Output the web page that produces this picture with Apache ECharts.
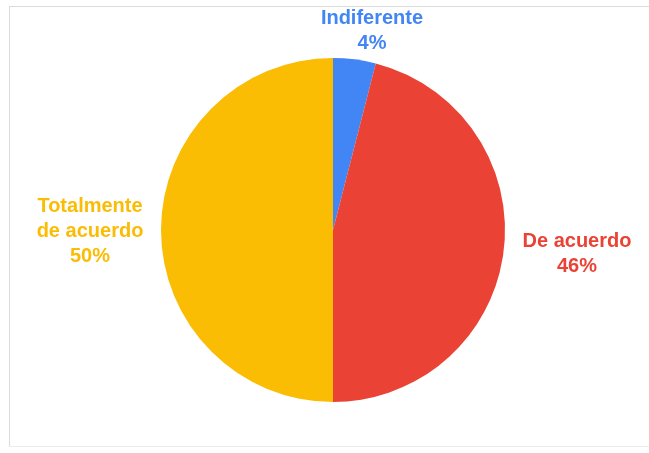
<!DOCTYPE html>
<html>
<head>
<meta charset="utf-8">
<script src="https://cdn.jsdelivr.net/npm/echarts@6/dist/echarts.min.js"></script>
<style>
  html, body { margin: 0; padding: 0; background: #fff; }
  #frame { position: absolute; left: 9px; top: 6px; width: 660px; height: 441px; border: 1px solid #dcdcdc; border-bottom-color: #ececec; box-sizing: border-box; }
  #chart { position: absolute; left: 0; top: 0; width: 649px; height: 453px; }
</style>
</head>
<body>
<div id="frame"></div>
<div id="chart"></div>
<script>
// Survey answers and their shares (percent)
const categories = ['Indiferente', 'De acuerdo', 'Totalmente\nde acuerdo'];
const shares = [4, 46, 50];
const colors = ['#4285F4', '#EA4335', '#FBBC04'];

// Label anchor points (centre of each text block), in pixels
const labelSpots = [[372, 31], [577, 254], [90, 231]];

const chart = echarts.init(document.getElementById('chart'), null, { renderer: 'canvas' });

const data = categories.map((name, i) => ({
  name: name,
  value: shares[i],
  itemStyle: { color: colors[i] },
  label: { color: colors[i] }
}));

chart.setOption({
  animation: false,
  series: [{
    type: 'pie',
    center: [333, 230],
    radius: 172,
    startAngle: 90,
    clockwise: true,
    data: data,
    label: {
      show: true,
      position: 'outside',
      formatter: p => p.name + '\n' + p.value + '%',
      fontFamily: '"Liberation Sans", Arial, sans-serif',
      fontWeight: 'bold',
      fontSize: 20,
      lineHeight: 25,
      align: 'center',
      verticalAlign: 'middle',
      overflow: 'none',
      width: 200
    },
    labelLine: { show: false },
    labelLayout: p => ({
      x: labelSpots[p.dataIndex][0],
      y: labelSpots[p.dataIndex][1],
      align: 'center',
      verticalAlign: 'middle'
    }),
    itemStyle: { borderWidth: 0 }
  }]
});
</script>
</body>
</html>
